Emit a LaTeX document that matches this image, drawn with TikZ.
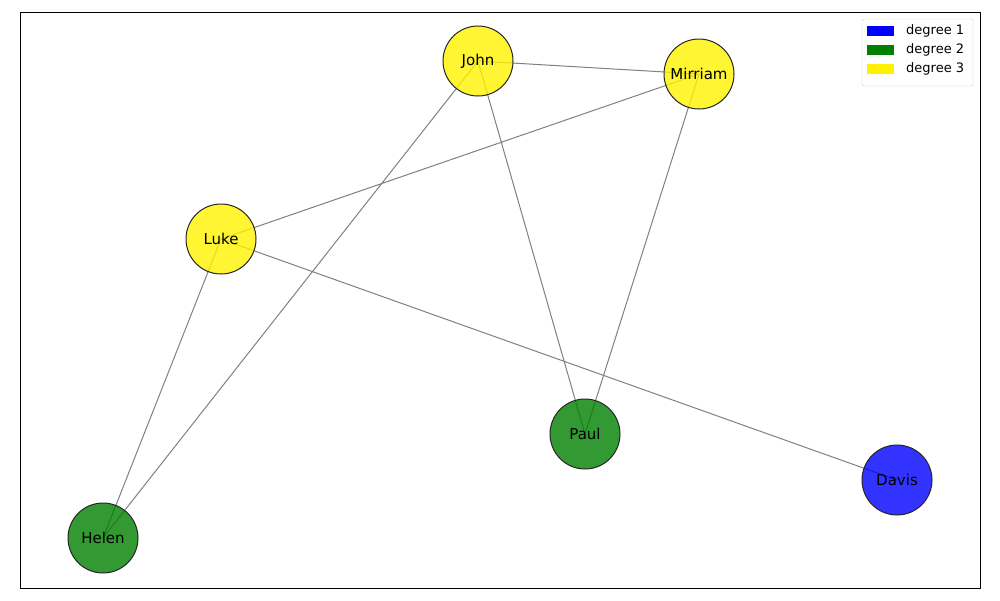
\documentclass[tikz,border=0pt]{standalone}
\usepackage{fontspec}
\setmainfont{DejaVu Sans}
\begin{document}
\begin{tikzpicture}[x=1pt,y=-1pt,
  vert/.style={circle,draw=black!85,fill opacity=0.8,text opacity=1,minimum size=70pt,inner sep=0pt,font=\fontsize{15}{18}\selectfont,line width=1pt},
  edge/.style={draw=black!50,line width=1pt},
  patch/.style={minimum width=27pt,minimum height=10pt,inner sep=0pt},
  lab/.style={anchor=west,font=\fontsize{13}{15}\selectfont,inner sep=0pt}]
\useasboundingbox (0,0) rectangle (1000,600);
\draw[line width=1pt] (20,12) rectangle (980,588);
\coordinate (cJ) at (478,61);
\coordinate (cM) at (699,74);
\coordinate (cL) at (221,239);
\coordinate (cP) at (585,434);
\coordinate (cD) at (897,480);
\coordinate (cH) at (103,538);
\draw[edge] (cJ)--(cM) (cJ)--(cP) (cJ)--(cH) (cM)--(cL) (cM)--(cP) (cL)--(cH) (cL)--(cD);
\node[vert,fill=yellow] (J) at (cJ) {John};
\node[vert,fill=yellow] (M) at (cM) {Mirriam};
\node[vert,fill=yellow] (L) at (cL) {Luke};
\node[vert,fill=green!50!black] (P) at (cP) {Paul};
\node[vert,fill=blue] (D) at (cD) {Davis};
\node[vert,fill=green!50!black] (H) at (cH) {Helen};
\draw[black!20,fill=white,rounded corners=2pt] (862,19) rectangle (973,86);
\node[patch,fill=blue] (p1) at (880.5,31) {};
\node[patch,fill=green!50!black] (p2) at (880.5,50) {};
\node[patch,fill=yellow] (p3) at (880.5,69) {};
\node[lab] (l1) at (906,31) {degree 1};
\node[lab] (l2) at (906,50) {degree 2};
\node[lab] (l3) at (906,69) {degree 3};
\end{tikzpicture}
\end{document}
